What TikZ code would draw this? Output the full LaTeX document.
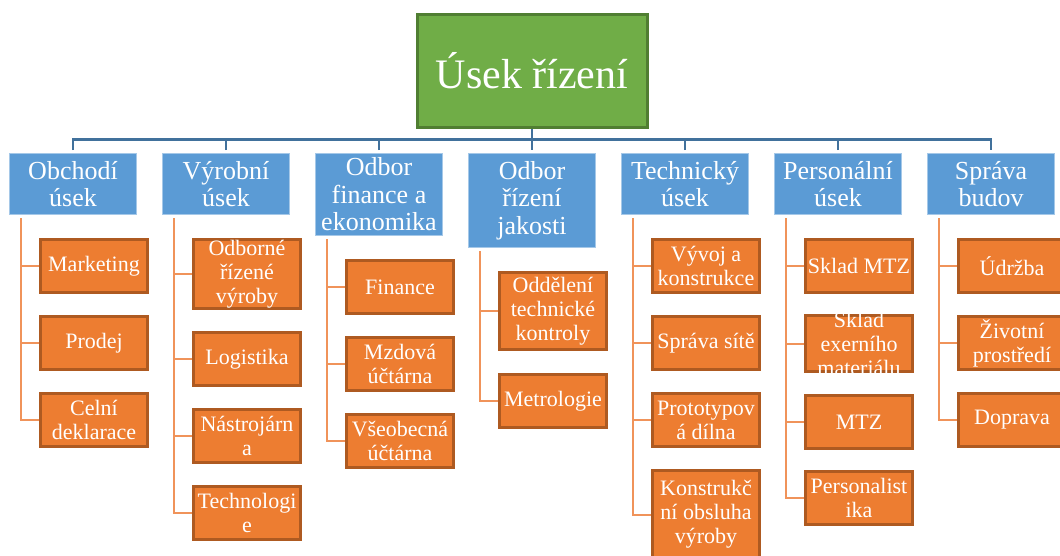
\documentclass[tikz,border=0pt]{standalone}
\usepackage{fontspec}
\setmainfont{Liberation Serif}
\usetikzlibrary{positioning}
\definecolor{headgreen}{HTML}{70AD47}
\definecolor{headedge}{HTML}{507E32}
\definecolor{deptblue}{HTML}{5B9BD5}
\definecolor{busblue}{HTML}{41719C}
\definecolor{unitorange}{HTML}{ED7D31}
\definecolor{unitedge}{HTML}{AE5A21}
\definecolor{linkorange}{HTML}{F0935A}
\tikzset{head/.style={
                      % The shape:
                      rectangle,minimum width=230pt,minimum height=113pt,
                      % The rest
                      line width=3pt,draw=headedge,fill=headgreen,
                      text=white,font=\fontsize{42}{44}\selectfont
                      },
         dept/.style={
                      % The shape:
                      rectangle,minimum width=127pt,minimum height=61pt,
                      anchor=north,inner sep=1pt,align=center,
                      % The rest
                      line width=1pt,draw=deptblue!55!white,fill=deptblue,
                      text=white,font=\fontsize{26}{27.5}\selectfont
                      },
         unit/.style={
                      % The shape:
                      rectangle,minimum width=107pt,minimum height=53pt,
                      inner xsep=1pt,inner ysep=0.5pt,align=center,
                      % The rest
                      line width=3pt,draw=unitedge,fill=unitorange,
                      text=white,font=\fontsize{22}{24}\selectfont
                      },
         unittext/.style={inner sep=0pt,align=center,text=white,
                      font=\fontsize{22}{24}\selectfont},
         bus/.style={line width=2.5pt,draw=busblue},
         link/.style={line width=2pt,draw=linkorange}}

\begin{document}
\begin{tikzpicture}[x=1pt,y=-1pt,node distance=21pt]
  \useasboundingbox (0,0) rectangle (1060,555);
  % Top:
  \node (rizeni) [head] at (532,71) {Úsek řízení};
  % Departments:
  \node (obchod)   [dept] at (73,153)  {Obchodí\\úsek};
  \node (vyroba)   [dept] at (226,153) {Výrobní\\úsek};
  \node (finance)  [dept,minimum height=82pt] at (379,153) {Odbor\\finance a\\ekonomika};
  \node (jakost)   [dept,minimum height=94pt] at (532,153) {Odbor\\řízení\\jakosti};
  \node (technika) [dept] at (685,153) {Technický\\úsek};
  \node (personal) [dept] at (838,153) {Personální\\úsek};
  \node (budovy)   [dept] at (991,153) {Správa\\budov};

  \coordinate (busmid) at (532,139.5);
  \draw[bus] ([yshift=3pt]obchod.north) |- (busmid) -| ([yshift=3pt]budovy.north);
  \draw[bus] (rizeni.south) -- ([yshift=3pt]jakost.north);
  \foreach \d in {vyroba,finance,technika,personal}
    \draw[bus] ([yshift=3pt]\d.north) -- (\d.north |- busmid);

  % Obchodí úsek:
  \node (obchod1) [unit,below right=23pt and 30pt of obchod.south west] {Marketing};
  \node (obchod2) [unit,below=of obchod1] {Prodej};
  \node (obchod3) [unit,below=of obchod2] {Celní\\deklarace};
  % Výrobní úsek:
  \node (vyroba1) [unit,minimum height=69pt,below right=23pt and 30pt of vyroba.south west] {Odborné\\řízené\\výroby};
  \node (vyroba2) [unit,below=of vyroba1] {Logistika};
  \node (vyroba3) [unit,below=of vyroba2] {Nástrojárn\\a};
  \node (vyroba4) [unit,below=of vyroba3] {Technologi\\e};
  % Odbor finance a ekonomika:
  \node (finance1) [unit,below right=23pt and 30pt of finance.south west] {Finance};
  \node (finance2) [unit,below=of finance1] {Mzdová\\účtárna};
  \node (finance3) [unit,below=of finance2] {Všeobecná\\účtárna};
  % Odbor řízení jakosti:
  \node (jakost1) [unit,minimum height=77pt,below right=23pt and 30pt of jakost.south west] {Oddělení\\technické\\kontroly};
  \node (jakost2) [unit,below=22pt of jakost1] {Metrologie};
  % Technický úsek:
  \node (technika1) [unit,below right=23pt and 30pt of technika.south west] {Vývoj a\\konstrukce};
  \node (technika2) [unit,below=of technika1] {Správa sítě};
  \node (technika3) [unit,below=of technika2] {Prototypov\\á dílna};
  \node (technika4) [unit,minimum height=88pt,below=of technika3] {Konstrukč\\ní obsluha\\výroby};
  % Personální úsek:
  \node (personal1) [unit,below right=23pt and 30pt of personal.south west] {Sklad MTZ};
  \node (personal2) [unit,minimum height=56pt,below=20pt of personal1,
                     label={[unittext]center:Sklad\\exerního\\materiálu}] {};
  \node (personal3) [unit,below=of personal2] {MTZ};
  \node (personal4) [unit,below=20pt of personal3] {Personalist\\ika};
  % Správa budov:
  \node (budovy1) [unit,below right=23pt and 30pt of budovy.south west] {Údržba};
  \node (budovy2) [unit,below=of budovy1] {Životní\\prostředí};
  \node (budovy3) [unit,below=of budovy2] {Doprava};

  \foreach \p/\n in {obchod/3,vyroba/4,finance/3,jakost/2,technika/4,personal/4,budovy/3}
    \foreach \i in {1,...,\n}
      \draw[link] ([xshift=12pt,yshift=-3pt]\p.south west) |- (\p\i.west);
\end{tikzpicture}
\end{document}
